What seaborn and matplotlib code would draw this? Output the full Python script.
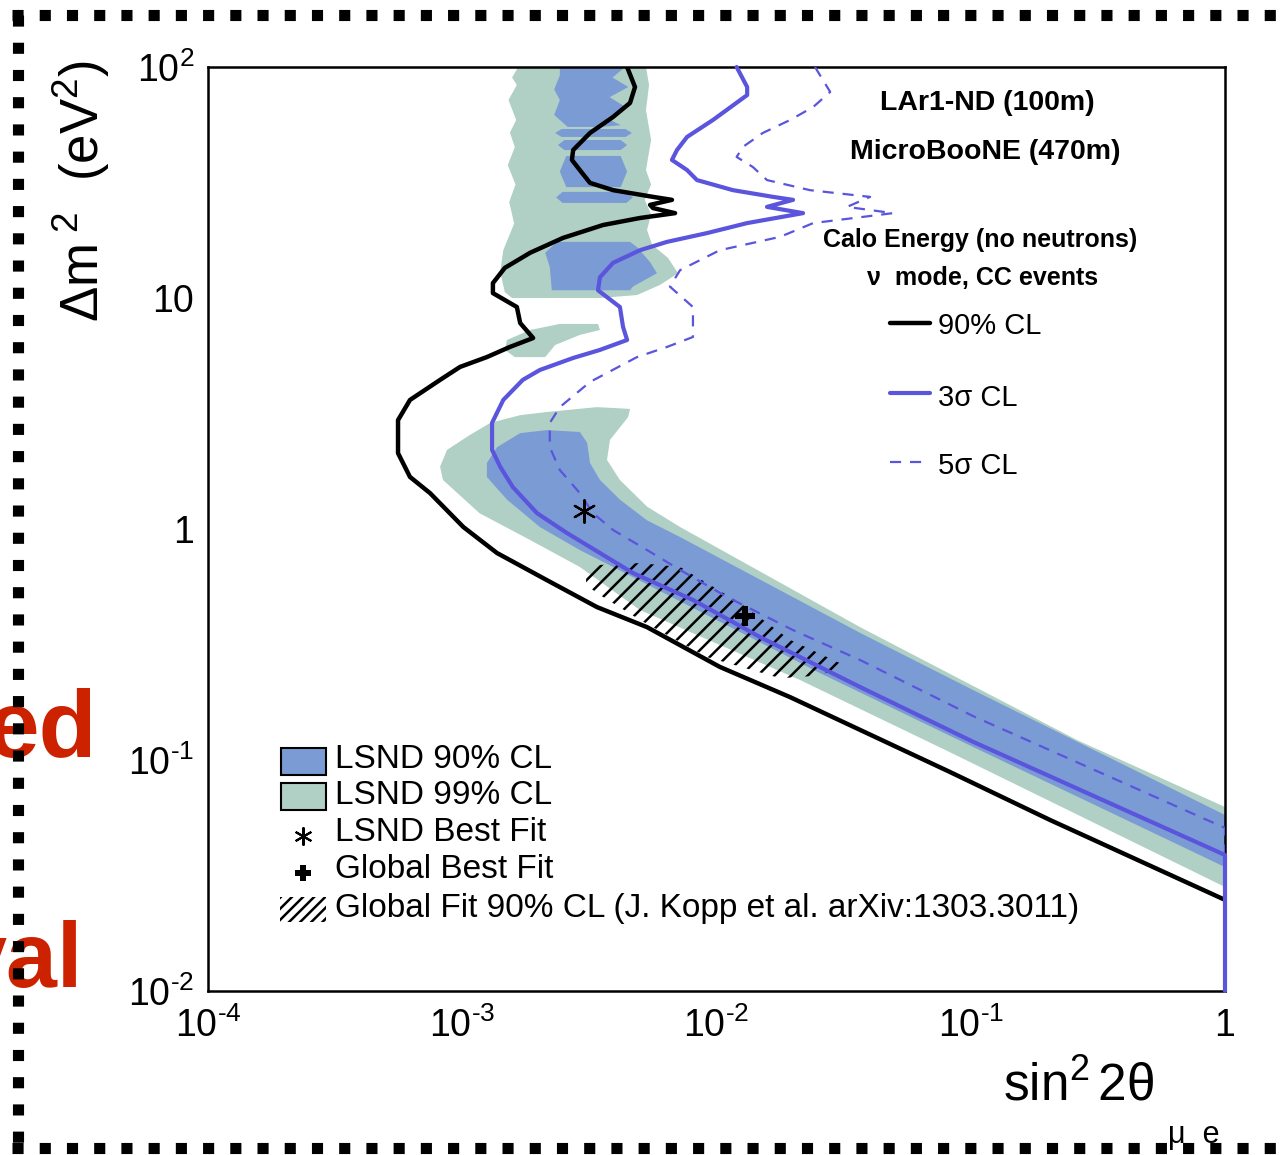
import numpy as np
import matplotlib
matplotlib.use("Agg")
import matplotlib.pyplot as plt
from matplotlib.patches import Rectangle
from matplotlib.lines import Line2D
from matplotlib.ticker import LogLocator, NullFormatter, FixedLocator, FixedFormatter
import seaborn as sns

sns.set_style("white")
plt.rcParams['font.family'] = ['Liberation Sans', 'DejaVu Sans']
plt.rcParams['mathtext.fontset'] = 'custom'
plt.rcParams['mathtext.rm'] = 'Liberation Sans'
plt.rcParams['mathtext.it'] = 'Liberation Sans:italic'
plt.rcParams['mathtext.bf'] = 'Liberation Sans:bold'
plt.rcParams['hatch.linewidth'] = 1.8
for k in ['text.color', 'axes.labelcolor', 'xtick.color', 'ytick.color', 'axes.edgecolor']:
    plt.rcParams[k] = 'black'

# ---------------- data (sin^2 2theta, delta m^2) ----------------
black_s2 = [4.45e-3, 4.78e-3, 4.57e-3, 3.92e-3, 3.18e-3, 2.73e-3, 2.70e-3, 2.90e-3, 3.18e-3, 3.92e-3,
            5.63e-3, 6.68e-3, 5.48e-3, 5.63e-3, 6.87e-3, 5.00e-3, 3.58e-3, 2.49e-3, 1.85e-3, 1.47e-3,
            1.32e-3, 1.32e-3, 1.64e-3, 1.69e-3, 1.90e-3, 1.54e-3, 1.25e-3, 9.80e-4, 8.18e-4, 6.23e-4,
            5.59e-4, 5.59e-4, 6.23e-4, 7.47e-4, 1.01e-3, 1.37e-3, 2.15e-3, 3.39e-3, 5.33e-3, 1.03e-2,
            1.95e-2, 8.29e-2, 0.205, 1.0]
black_dm2 = [100, 81.9, 69.9, 60.8, 51.8, 43.7, 39.6, 35.8, 31.5, 29.3,
             27.4, 26.6, 25.3, 24.5, 23.3, 22.2, 20.7, 18.2, 15.7, 13.5,
             11.6, 10.5, 9.14, 7.79, 6.71, 6.14, 5.55, 5.03, 4.42, 3.62,
             2.96, 2.13, 1.68, 1.43, 1.02, 0.787, 0.601, 0.459, 0.376, 0.253,
             0.187, 0.0887, 0.0550, 0.0248]

sig3_s2 = [1.20e-2, 1.32e-2, 1.32e-2, 9.69e-3, 7.66e-3, 6.99e-3, 6.68e-3, 7.66e-3, 8.38e-3, 1.16e-2,
           1.67e-2, 2.00e-2, 1.58e-2, 2.19e-2, 1.32e-2, 9.18e-3, 6.39e-3, 5.00e-3, 3.92e-3, 3.48e-3,
           3.42e-3, 4.17e-3, 4.29e-3, 4.45e-3, 3.48e-3, 2.73e-3, 2.02e-3, 1.73e-3, 1.45e-3, 1.31e-3,
           1.31e-3, 1.41e-3, 1.58e-3, 1.97e-3, 2.58e-3, 3.48e-3, 4.69e-3, 8.08e-3, 1.48e-2, 3.67e-2,
           0.102, 1.0, 1.0]
sig3_dm2 = [100, 81.9, 75.6, 59.0, 49.8, 43.7, 39.6, 35.8, 32.4, 29.3,
            27.4, 26.6, 24.8, 23.3, 21.1, 19.1, 17.5, 16.1, 14.2, 12.3,
            10.8, 9.14, 7.49, 6.58, 5.96, 5.50, 4.88, 4.42, 3.62, 2.88,
            2.20, 1.86, 1.52, 1.17, 0.961, 0.787, 0.645, 0.493, 0.341, 0.207,
            0.120, 0.0388, 0.01]

sig5_s2 = [2.44e-2, 2.80e-2, 2.40e-2, 1.95e-2, 1.52e-2, 1.27e-2, 1.20e-2, 1.39e-2, 1.58e-2, 2.33e-2,
           4.02e-2, 3.26e-2, 4.94e-2, 2.40e-2, 1.78e-2, 1.03e-2, 7.19e-3, 6.56e-3, 8.08e-3, 8.08e-3,
           6.39e-3, 4.87e-3, 3.18e-3, 2.42e-3, 2.21e-3, 2.21e-3, 2.42e-3, 2.90e-3, 3.27e-3, 3.92e-3,
           5.33e-3, 7.19e-3, 1.10e-2, 2.00e-2, 3.67e-2, 0.102, 1.0, 1.0]
sig5_dm2 = [100, 78.0, 67.1, 59.0, 51.8, 45.1, 40.8, 36.9, 32.4, 29.3,
            27.4, 24.8, 23.3, 21.1, 18.4, 16.1, 13.2, 11.2, 9.14, 6.78,
            6.14, 5.55, 4.33, 3.37, 2.88, 2.26, 1.80, 1.43, 1.17, 0.990,
            0.811, 0.665, 0.508, 0.365, 0.271, 0.155, 0.0508, 0.01]

# LSND 99% CL regions
l99_band_s2 = [8.18e-4, 8.71e-4, 1.07e-3, 1.29e-3, 1.69e-3, 2.15e-3, 3.39e-3, 4.57e-3, 4.49e-3, 3.81e-3,
               3.71e-3, 4.17e-3, 5.33e-3, 7.19e-3, 3.67e-2, 0.262, 1.0,
               1.0, 8.29e-2, 2.13e-2, 5.00e-3, 2.90e-3, 1.85e-3, 1.17e-3, 8.40e-4]
l99_band_dm2 = [1.86, 2.20, 2.55, 2.88, 3.11, 3.21, 3.37, 3.31, 3.05, 2.43,
                1.99, 1.63, 1.25, 1.02, 0.376, 0.122, 0.0626,
                0.0282, 0.108, 0.222, 0.446, 0.685, 0.896, 1.17, 1.63]
l99_top_s2 = [1.66e-3, 1.57e-3, 1.64e-3, 1.52e-3, 1.63e-3, 1.54e-3, 1.61e-3, 1.51e-3, 1.62e-3, 1.53e-3,
              1.60e-3, 1.45e-3, 1.41e-3, 1.47e-3, 1.57e-3, 3.48e-3, 4.87e-3, 6.00e-3, 7.06e-3, 6.45e-3,
              5.58e-3, 5.33e-3, 5.53e-3, 5.22e-3, 5.53e-3, 5.28e-3, 5.53e-3, 5.28e-3, 5.43e-3, 5.28e-3]
l99_top_dm2 = [100, 90.0, 83.6, 72.0, 59.0, 52.0, 45.0, 37.6, 31.0, 26.0,
               21.0, 16.1, 13.0, 10.6, 10.0, 10.0, 10.3, 11.4, 12.8, 14.9,
               17.0, 19.7, 23.0, 26.6, 31.0, 35.8, 48.3, 65.1, 83.6, 100]
l99_isl_s2 = [1.50e-3, 1.85e-3, 2.42e-3, 3.42e-3, 3.48e-3, 2.90e-3, 2.32e-3, 2.12e-3, 1.61e-3, 1.47e-3]
l99_isl_dm2 = [6.58, 7.27, 7.72, 7.72, 7.27, 6.92, 6.26, 5.55, 5.55, 5.96]

# LSND 90% CL regions
l90_band_s2 = [1.25e-3, 1.37e-3, 1.69e-3, 2.15e-3, 2.90e-3, 3.10e-3, 3.18e-3, 3.48e-3, 4.17e-3, 5.33e-3,
               7.19e-3, 3.67e-2, 0.102, 1.0,
               1.0, 0.102, 2.55e-2, 3.92e-3, 2.90e-3, 2.02e-3, 1.50e-3, 1.25e-3]
l90_band_dm2 = [1.93, 2.26, 2.60, 2.68, 2.63, 2.36, 1.93, 1.63, 1.34, 1.09,
                0.923, 0.355, 0.201, 0.0578,
                0.0344, 0.114, 0.238, 0.685, 0.811, 1.02, 1.34, 1.68]
l90_mid_s2 = [2.36e-3, 4.57e-3, 4.87e-3, 5.48e-3, 5.83e-3, 4.69e-3, 4.57e-3, 2.25e-3, 2.21e-3, 2.12e-3]
l90_mid_dm2 = [17.5, 17.5, 16.6, 14.3, 12.8, 11.2, 10.8, 10.8, 13.6, 15.7]
l90_top_s2 = [2.42e-3, 4.37e-3, 3.90e-3, 4.50e-3, 3.80e-3, 4.40e-3, 3.70e-3, 4.20e-3, 3.50e-3,
              2.60e-3, 2.30e-3, 2.42e-3, 2.30e-3, 2.42e-3]
l90_top_dm2 = [100, 100, 90.0, 82.0, 74.0, 67.0, 60.0, 56.0, 55.0,
               55.0, 62.0, 72.0, 80.0, 92.0]
stripe_s2_lo = [2.32e-3, 2.38e-3, 2.42e-3, 2.34e-3]
stripe_s2_hi = [4.65e-3, 4.45e-3, 4.45e-3, 4.69e-3]
stripe_dm2_lo = [49.8, 43.7, 30.2, 25.8]
stripe_dm2_hi = [53.9, 48.3, 41.2, 28.8]

# Global fit 90% CL (hatched)
glob_s2 = [3.07e-3, 3.48e-3, 5.00e-3, 7.19e-3, 1.24e-2, 1.95e-2, 3.12e-2, 3.00e-2, 2.40e-2, 1.78e-2,
           9.18e-3, 5.00e-3, 3.48e-3, 3.07e-3]
glob_dm2 = [0.652, 0.699, 0.712, 0.685, 0.478, 0.331, 0.260, 0.245, 0.231, 0.226,
            0.279, 0.404, 0.518, 0.572]

lsnd_best = (0.003, 1.2)
global_best = (0.013, 0.42)

HY = '\u2010'
x_ticks = [1e-4, 1e-3, 1e-2, 1e-1, 1]
x_labels = [r'$\mathregular{10^{%s4}}$' % HY, r'$\mathregular{10^{%s3}}$' % HY,
            r'$\mathregular{10^{%s2}}$' % HY, r'$\mathregular{10^{%s1}}$' % HY, '1']
y_ticks = [1e-2, 1e-1, 1, 10, 100]
y_labels = [r'$\mathregular{10^{%s2}}$' % HY, r'$\mathregular{10^{%s1}}$' % HY, '1', '10',
            r'$\mathregular{10^{2}}$']

# ---------------- style ----------------
C_GREEN = '#b0cfc5'
C_BLUEF = '#7b9bd4'
C_LINE = '#5a55dc'

W, H = 1282, 1155
fig = plt.figure(figsize=(W / 100, H / 100), dpi=100)
ax = fig.add_axes([208 / W, 1 - 991 / H, (1225 - 208) / W, (991 - 67) / H])
ax.set_xscale('log')
ax.set_yscale('log')
ax.set_xlim(1e-4, 1)
ax.set_ylim(1e-2, 1e2)

# filled regions
for xs, ys in [(l99_band_s2, l99_band_dm2), (l99_top_s2, l99_top_dm2), (l99_isl_s2, l99_isl_dm2)]:
    ax.fill(xs, ys, color=C_GREEN, lw=0, zorder=1)
for xs, ys in [(l90_band_s2, l90_band_dm2), (l90_mid_s2, l90_mid_dm2), (l90_top_s2, l90_top_dm2)]:
    ax.fill(xs, ys, color=C_BLUEF, lw=0, zorder=1.1)
for lo, hi, dlo, dhi in zip(stripe_s2_lo, stripe_s2_hi, stripe_dm2_lo, stripe_dm2_hi):
    mid = np.sqrt(dlo * dhi)
    f = 1.06
    ax.fill([lo, lo * f, hi / f, hi, hi / f, lo * f], [mid, dhi, dhi, mid, dlo, dlo],
            color=C_BLUEF, lw=0, zorder=1.1)

ax.fill(glob_s2, glob_dm2, facecolor='none', edgecolor='black', lw=0, hatch='//', zorder=1.5)

# contour lines
sns.lineplot(x=black_s2, y=black_dm2, sort=False, estimator=None, color='black', lw=3.2, ax=ax, zorder=3)
sns.lineplot(x=sig3_s2, y=sig3_dm2, sort=False, estimator=None, color=C_LINE, lw=3.0, ax=ax, zorder=3,
             clip_on=False)
sns.lineplot(x=sig5_s2, y=sig5_dm2, sort=False, estimator=None, color=C_LINE, lw=1.6,
             linestyle=(0, (5, 4)), ax=ax, zorder=3)

# best-fit points
sns.scatterplot(x=[lsnd_best[0]], y=[lsnd_best[1]], marker=(6, 2, 0), s=260, color='black',
                linewidth=1.6, ax=ax, zorder=4)
sns.scatterplot(x=[global_best[0]], y=[global_best[1]], marker='P', s=200, color='black',
                linewidth=0, ax=ax, zorder=4)

# axes styling
for sp in ax.spines.values():
    sp.set_linewidth(1.8)
    sp.set_color('black')
ax.xaxis.set_major_locator(FixedLocator(x_ticks))
ax.xaxis.set_major_formatter(FixedFormatter(x_labels))
ax.yaxis.set_major_locator(FixedLocator(y_ticks))
ax.yaxis.set_major_formatter(FixedFormatter(y_labels))
ax.xaxis.set_minor_locator(LogLocator(base=10, subs=range(2, 10), numticks=100))
ax.yaxis.set_minor_locator(LogLocator(base=10, subs=range(2, 10), numticks=100))
ax.xaxis.set_minor_formatter(NullFormatter())
ax.yaxis.set_minor_formatter(NullFormatter())
ax.tick_params(which='major', direction='in', length=20, width=1.5, top=False, right=False,
               labelsize=27, pad=10, colors='black')
ax.tick_params(which='minor', direction='in', length=10, width=1.5, top=False, right=False)
ax.tick_params(axis='x', which='major', pad=12)

# axis titles
fig.text(81 / W, 1 - 60 / H, r'$\mathregular{\Delta m^{\ 2}\ \ (eV^{2})}$', rotation=90,
         ha='center', va='top', fontsize=38)
fig.text(1003 / W, 1 - 1100 / H, r'$\mathregular{sin^{2}\,2\theta}$', ha='left', va='baseline',
         fontsize=37)
fig.text(1168 / W, 1 - 1143 / H, 'μ  e', ha='left', va='baseline', fontsize=22)

# right-hand annotations
tA = ax.transAxes
ax.text(0.766, 0.961, 'LAr1-ND (100m)', transform=tA, ha='center', va='center', fontsize=20.5, fontweight='bold')
ax.text(0.764, 0.908, 'MicroBooNE (470m)', transform=tA, ha='center', va='center', fontsize=20.5, fontweight='bold')
ax.text(0.759, 0.8128, 'Calo Energy (no neutrons)', transform=tA, ha='center', va='center', fontsize=18, fontweight='bold')
ax.text(0.762, 0.7716, 'ν  mode, CC events', transform=tA, ha='center', va='center', fontsize=18, fontweight='bold')

ax.add_line(Line2D([0.6706, 0.7099], [0.7229, 0.7229], transform=tA, color='black', lw=3.2))
ax.add_line(Line2D([0.6706, 0.7099], [0.6472, 0.6472], transform=tA, color=C_LINE, lw=3.0))
ax.add_line(Line2D([0.6706, 0.7050], [0.5725, 0.5725], transform=tA, color=C_LINE, lw=1.6,
                   linestyle=(0, (5, 4))))
ax.text(0.7178, 0.7197, '90% CL', transform=tA, ha='left', va='center', fontsize=21)
ax.text(0.7178, 0.6418, '3σ CL', transform=tA, ha='left', va='center', fontsize=21)
ax.text(0.7178, 0.5682, '5σ CL', transform=tA, ha='left', va='center', fontsize=21)

# lower-left legend
ax.add_patch(Rectangle((0.0718, 0.2338), 0.0442, 0.0292, transform=tA, facecolor=C_BLUEF,
                       edgecolor='black', lw=1.5, zorder=5))
ax.add_patch(Rectangle((0.0718, 0.1959), 0.0442, 0.0292, transform=tA, facecolor=C_GREEN,
                       edgecolor='black', lw=1.5, zorder=5))
ax.add_patch(Rectangle((0.0708, 0.0747), 0.0452, 0.027, transform=tA, facecolor='none',
                       edgecolor='black', lw=0, hatch='///', zorder=5))
ax.plot([0.0934], [0.1677], marker=(6, 2, 0), ms=13, mew=1.5, color='black', transform=tA,
        zorder=5, clip_on=False)
ax.plot([0.0934], [0.1277], marker='P', ms=11, mew=0, color='black', transform=tA, zorder=5,
        clip_on=False)
leg_txt = ['LSND 90% CL', 'LSND 99% CL', 'LSND Best Fit', 'Global Best Fit',
           'Global Fit 90% CL (J. Kopp et al. arXiv:1303.3011)']
leg_y = [0.2500, 0.2121, 0.1710, 0.1310, 0.0898]
for t, yy in zip(leg_txt, leg_y):
    ax.text(0.1249, yy, t, transform=tA, ha='left', va='center', fontsize=24)

# slide fragments outside the plot (cut at the left edge, as in the source slide)
fig.text(97 / W, 1 - 757 / H, 'ed', ha='right', va='baseline', color='#cc2200', fontsize=68,
         fontweight='bold')
fig.text(83 / W, 1 - 987 / H, 'val', ha='right', va='baseline', color='#cc2200', fontsize=66,
         fontweight='bold')

# dotted slide border
dot = dict(color='black', lw=8, linestyle=(0, (1, 1.45)), solid_capstyle='butt', dash_capstyle='butt',
           transform=fig.transFigure, zorder=10)
fig.add_artist(Line2D([17.5 / W, 17.5 / W], [1 - 15 / H, 1 - 1152 / H], **dot))
fig.add_artist(Line2D([12 / W, 1.0], [1 - 15 / H, 1 - 15 / H], **dot))
fig.add_artist(Line2D([12 / W, 1.0], [1 - 1148 / H, 1 - 1148 / H], **dot))

fig.savefig('out.png', dpi=100)
